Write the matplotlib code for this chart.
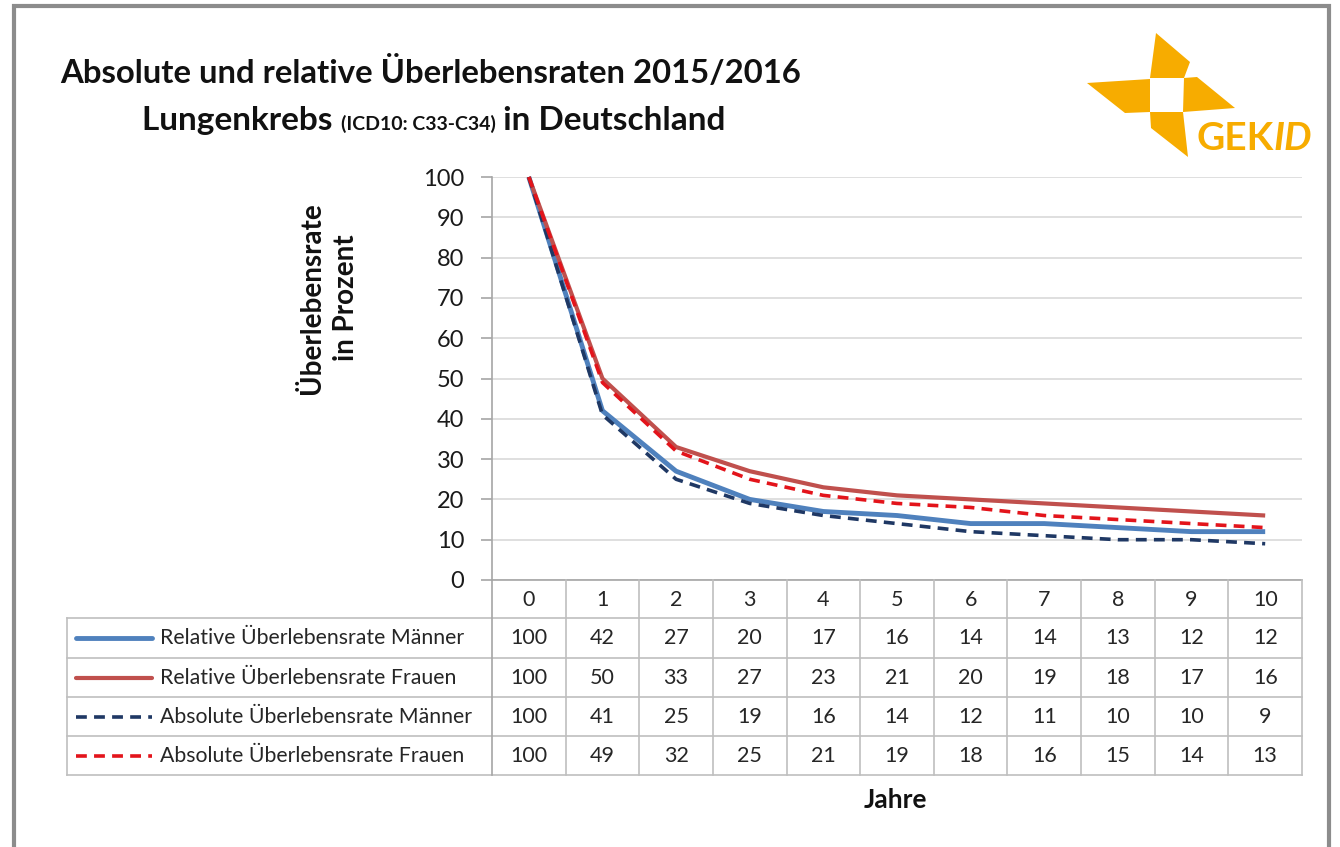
import matplotlib
matplotlib.use("Agg")
import matplotlib.pyplot as plt
from matplotlib.patches import Polygon, Rectangle
from matplotlib.lines import Line2D
from matplotlib.transforms import blended_transform_factory

# ---- data ----
years = list(range(0, 11))
series_names = ["Relative Überlebensrate Männer",
                "Relative Überlebensrate Frauen",
                "Absolute Überlebensrate Männer",
                "Absolute Überlebensrate Frauen"]
rel_m = [100, 42, 27, 20, 17, 16, 14, 14, 13, 12, 12]
rel_f = [100, 50, 33, 27, 23, 21, 20, 19, 18, 17, 16]
abs_m = [100, 41, 25, 19, 16, 14, 12, 11, 10, 10, 9]
abs_f = [100, 49, 32, 25, 21, 19, 18, 16, 15, 14, 13]
yticks = list(range(0, 101, 10))

title = "Absolute und relative Überlebensraten 2015/2016"
sub_parts = ["Lungenkrebs ", "(ICD10: C33-C34)", " in Deutschland"]

W, H = 1340, 847
plt.rcParams['font.family'] = ['Lato', 'DejaVu Sans']
fig = plt.figure(figsize=(W / 100, H / 100), dpi=100)

def fx(px):
    return px / W

def fy(py):
    return 1 - py / H

# outer frame
fig.patches.append(Rectangle((fx(14), fy(900)), fx(1329 - 14), fy(6) - fy(900),
                             transform=fig.transFigure, fill=False,
                             edgecolor='#8c8c8c', linewidth=3))

ax_l, ax_r, ax_t, ax_b = 492, 1302, 177, 580
ax = fig.add_axes([fx(ax_l), fy(ax_b), fx(ax_r - ax_l), fy(ax_t) - fy(ax_b)])
ax.set_xlim(-0.5, 10.5)
ax.set_ylim(0, 100)
ax.set_yticks(yticks)
ax.set_xticks([])
ax.grid(axis='y', color='#d9d9d9', linewidth=1.2)
ax.set_axisbelow(True)
for s in ['top', 'right']:
    ax.spines[s].set_visible(False)
ax.spines['left'].set_color('#a6a6a6')
ax.spines['bottom'].set_color('#a6a6a6')
ax.spines['left'].set_linewidth(1.2)
ax.spines['bottom'].set_linewidth(1.2)
ax.tick_params(axis='y', length=8, width=1.2, color='#a6a6a6',
               labelsize=17, labelcolor='#1a1a1a', pad=12)

styles = [
    dict(color='#4f81bd', lw=3.5, ls='-'),
    dict(color='#c0504d', lw=3.0, ls='-'),
    dict(color='#1f3864', lw=2.6, ls=(0, (3, 2))),
    dict(color='#e3141b', lw=2.6, ls=(0, (3, 2))),
]
data = [rel_m, rel_f, abs_m, abs_f]
for vals, st in zip(data, styles):
    ax.plot(years, vals, color=st['color'], lw=st['lw'], linestyle=st['ls'],
            solid_capstyle='butt', dash_capstyle='butt', clip_on=False)

# ---- data table ----
bt = blended_transform_factory(ax.transData, fig.transFigure)
grid_c = '#bfbfbf'
row_edges = [580, 618, 658, 697, 736, 775]
tbl_left = 67
for i, yy in enumerate(row_edges[1:]):
    fig.add_artist(Line2D([fx(tbl_left), fx(ax_r)], [fy(yy), fy(yy)],
                          transform=fig.transFigure, color=grid_c, lw=1.2))
for k in range(12):
    xd = k - 0.5
    fig.add_artist(Line2D([xd, xd], [fy(580), fy(775)], transform=bt,
                          color=grid_c if k > 0 else '#a6a6a6', lw=1.2))
fig.add_artist(Line2D([fx(tbl_left), fx(tbl_left)], [fy(618), fy(775)],
                      transform=fig.transFigure, color=grid_c, lw=1.2))

num_fs = 15.5
for yv in years:
    fig.text(yv, fy(600), str(yv), transform=bt, ha='center', va='center',
             fontsize=num_fs, color='#262626')
for r, (name, vals, st) in enumerate(zip(series_names, data, styles)):
    yc = (row_edges[r + 1] + row_edges[r + 2]) / 2
    fig.add_artist(Line2D([fx(76), fx(152)], [fy(yc), fy(yc)],
                          transform=fig.transFigure, color=st['color'],
                          lw=st['lw'], linestyle=st['ls'],
                          solid_capstyle='round', dash_capstyle='butt'))
    fig.text(fx(160), fy(yc), name, ha='left', va='center', fontsize=15.3,
             color='#262626')
    for yv, v in zip(years, vals):
        fig.text(yv, fy(yc), str(v), transform=bt, ha='center', va='center',
                 fontsize=num_fs, color='#262626')

# axis titles
fig.text(fx(329), fy(298), "Überlebensrate\nin Prozent", rotation=90,
         ha='center', va='center', fontsize=20, fontweight='bold',
         linespacing=1.4, color='#111111')
fig.text(fx(895), fy(800), "Jahre", ha='center', va='center', fontsize=19,
         fontweight='bold', color='#111111')

# titles
fig.text(fx(60), fy(83), title, ha='left', va='baseline', fontsize=23.7,
         fontweight='bold', color='#111111')
fig.canvas.draw()
renderer = fig.canvas.get_renderer()
x = 142
sizes = [24, 14, 24]
for part, sz in zip(sub_parts, sizes):
    t = fig.text(fx(x), fy(130), part, ha='left', va='baseline', fontsize=sz,
                 fontweight='bold', color='#111111')
    bb = t.get_window_extent(renderer)
    x += bb.width

# ---- logo ----
orange = '#f7ac00'
blades = [
    [(1150, 78), (1156, 33), (1190, 62), (1184, 78)],
    [(1184, 78), (1197, 77), (1235, 108), (1183, 112)],
    [(1150, 112), (1183, 112), (1188, 157), (1151, 128)],
    [(1087, 83), (1150, 79), (1150, 112), (1125, 113)],
]
for b in blades:
    fig.patches.append(Polygon([(fx(px), fy(py)) for px, py in b], closed=True,
                               transform=fig.transFigure, facecolor=orange,
                               edgecolor='none'))
tg = fig.text(fx(1196), fy(150), "GEK", ha='left', va='baseline', fontsize=28,
              fontweight='bold', color=orange)
bb = tg.get_window_extent(renderer)
fig.text(fx(1196) + bb.width / W, fy(150), "ID", ha='left', va='baseline',
         fontsize=28, fontweight='bold', style='italic', color=orange)

fig.savefig("out.png", dpi=100)
